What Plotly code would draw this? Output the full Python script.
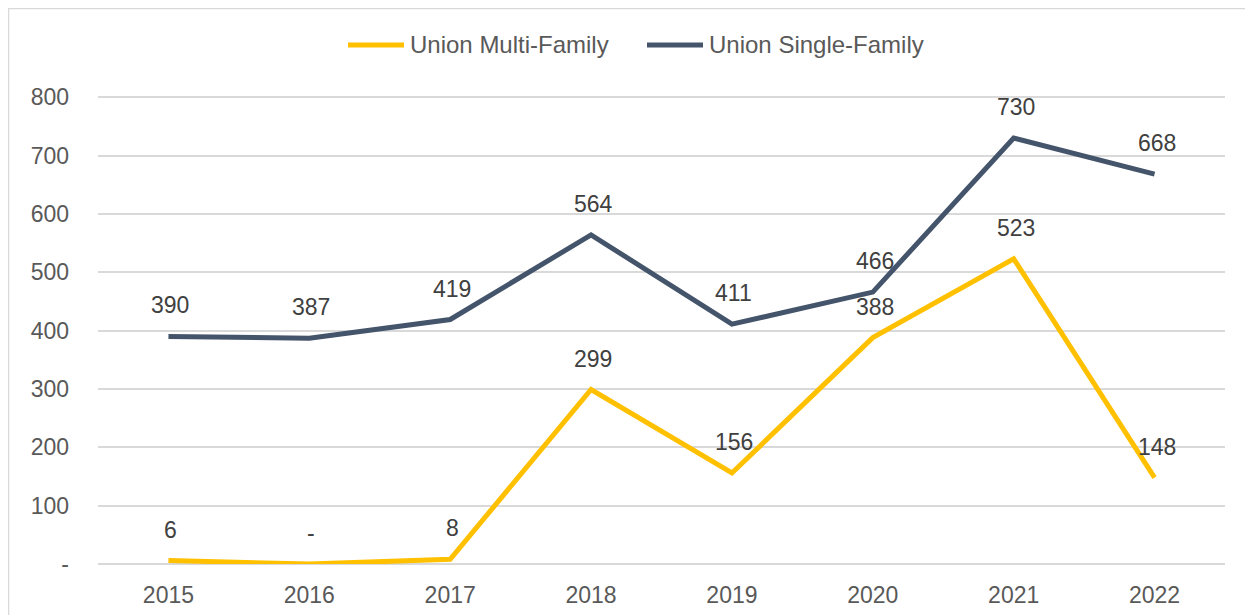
import plotly.graph_objects as go

# Datos
years = ["2015", "2016", "2017", "2018", "2019", "2020", "2021", "2022"]
multi_family = [6, 0, 8, 299, 156, 388, 523, 148]
single_family = [390, 387, 419, 564, 411, 466, 730, 668]
y_ticks = [0, 100, 200, 300, 400, 500, 600, 700, 800]
y_tick_text = ["-", "100", "200", "300", "400", "500", "600", "700", "800"]

FONT = "Liberation Sans, Arial, sans-serif"
AMARILLO = "#FFC000"
AZUL = "#44546A"

# el body del html desplaza la figura 8 px; el área de trazado va de 90 a 1217 px
PLOT_L, PLOT_W = 90, 1127
PLOT_T, PLOT_H = 88, 468


def px_x(p):
    return (p - PLOT_L) / PLOT_W


def px_y(p):
    return 1 + (PLOT_T - p) / PLOT_H


def etiqueta(v):
    # formato contable: cero como guion
    return "-" if v == 0 else f"{v:,}"


fig = go.Figure()

fig.add_trace(go.Scatter(
    x=years,
    y=multi_family,
    mode="lines",
    name="Union Multi-Family",
    line=dict(color=AMARILLO, width=5),
    showlegend=False,
))

fig.add_trace(go.Scatter(
    x=years,
    y=single_family,
    mode="lines",
    name="Union Single-Family",
    line=dict(color=AZUL, width=5),
    showlegend=False,
))

# Etiquetas de datos encima de cada punto
anotaciones = []
for serie in (multi_family, single_family):
    for i, v in enumerate(serie):
        anotaciones.append(dict(
            xref="x",
            yref="y",
            x=i,
            y=v,
            text=etiqueta(v),
            showarrow=False,
            yshift=31,
            xshift=2,
            yanchor="middle",
            font=dict(family=FONT, size=23, color="#404040"),
        ))

# Leyenda dibujada a mano (muestra de línea más larga que la de plotly)
shapes = [dict(
    type="rect",
    xref="paper", yref="paper",
    x0=px_x(0.5), x1=1.1,
    y0=-0.3, y1=px_y(0.5),
    line=dict(color="#D9D9D9", width=1.5),
    layer="below",
)]
leyenda = [("Union Multi-Family", AMARILLO, 340, 396, 400),
           ("Union Single-Family", AZUL, 639, 695, 699)]
for nombre, color, x0, x1, xt in leyenda:
    shapes.append(dict(
        type="line",
        xref="paper", yref="paper",
        x0=px_x(x0), x1=px_x(x1),
        y0=px_y(37), y1=px_y(37),
        line=dict(color=color, width=5),
    ))
    anotaciones.append(dict(
        xref="paper", yref="paper",
        x=px_x(xt), y=px_y(37),
        xanchor="left", yanchor="middle",
        text=nombre,
        showarrow=False,
        font=dict(family=FONT, size=24, color="#595959"),
    ))

fig.update_layout(
    width=1245,
    height=607,
    paper_bgcolor="white",
    plot_bgcolor="white",
    margin=dict(l=PLOT_L, r=1245 - PLOT_L - PLOT_W, t=PLOT_T, b=607 - PLOT_T - PLOT_H),
    font=dict(family=FONT, size=23, color="#595959"),
    showlegend=False,
    annotations=anotaciones,
    shapes=shapes,
    xaxis=dict(
        type="category",
        range=[-0.5, 7.5],
        showgrid=False,
        showline=False,
        zeroline=False,
        ticks="",
        ticklabelstandoff=15,
        automargin=False,
        tickfont=dict(size=23, color="#595959"),
    ),
    yaxis=dict(
        range=[0, 802],
        tickvals=y_ticks,
        ticktext=y_tick_text,
        showgrid=True,
        gridcolor="#D9D9D9",
        gridwidth=1.5,
        zeroline=True,
        zerolinecolor="#D9D9D9",
        zerolinewidth=1.5,
        showline=False,
        ticks="",
        ticklabelstandoff=28,
        automargin=False,
        tickfont=dict(size=23, color="#595959"),
    ),
)

fig.write_html("out.html")
